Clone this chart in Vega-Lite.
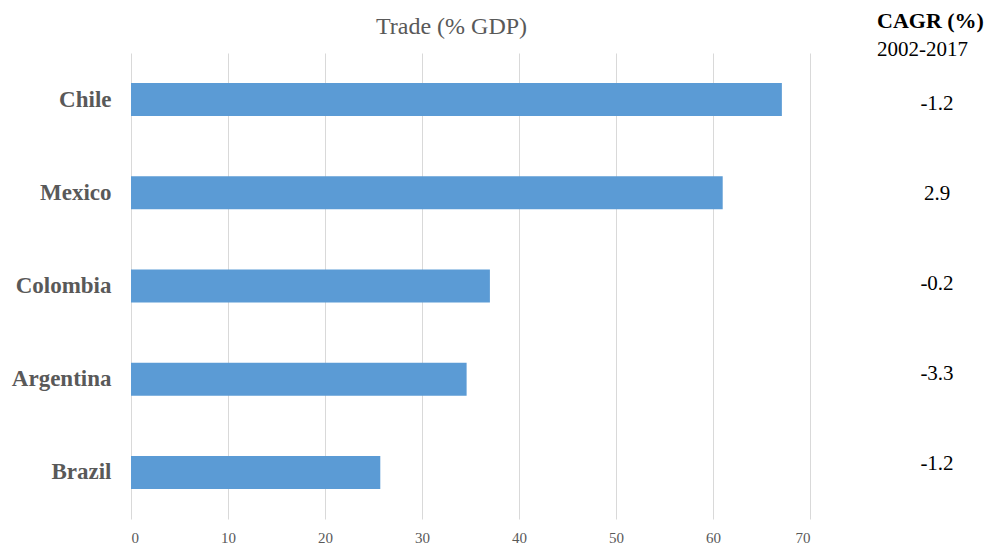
{
  "$schema": "https://vega.github.io/schema/vega-lite/v6.json",
  "background": "white",
  "padding": {"left": 11, "top": 10, "right": 5, "bottom": 5},
  "bounds": "flush",
  "spacing": 67,
  "config": {"view": {"stroke": null}, "font": "Liberation Serif"},
  "data": {"values": [
    {"Country": "Chile", "Trade": 67.1, "CAGR": "-1.2"},
    {"Country": "Mexico", "Trade": 61.0, "CAGR": "2.9"},
    {"Country": "Colombia", "Trade": 37.0, "CAGR": "-0.2"},
    {"Country": "Argentina", "Trade": 34.6, "CAGR": "-3.3"},
    {"Country": "Brazil", "Trade": 25.7, "CAGR": "-1.2"}
  ]},
  "hconcat": [
    {
      "width": 679,
      "height": 466,
      "title": {"text": "Trade (% GDP)", "fontSize": 24, "fontWeight": "normal", "color": "#595959", "font": "Liberation Serif", "anchor": "middle", "offset": 14, "dx": -19},
      "mark": {"type": "bar", "color": "#5B9BD5"},
      "encoding": {
        "y": {"field": "Country", "type": "nominal", "sort": ["Chile", "Mexico", "Colombia", "Argentina", "Brazil"],
          "scale": {"paddingInner": 0.646, "paddingOuter": 0.323},
          "axis": {"title": null, "domain": false, "ticks": false, "labelFont": "Liberation Serif", "labelFontSize": 23, "labelFontWeight": "bold", "labelColor": "#595959", "labelPadding": 20}},
        "x": {"field": "Trade", "type": "quantitative", "scale": {"domain": [0, 70], "nice": false},
          "axis": {"title": null, "values": [0, 10, 20, 30, 40, 50, 60, 70], "grid": true, "gridColor": "#d9d9d9", "domain": false, "ticks": false, "labelFont": "Liberation Serif", "labelFontSize": 15, "labelColor": "#595959", "labelPadding": 11}}
      }
    },
    {
      "width": 120,
      "height": 466,
      "title": {"text": "CAGR (%)", "subtitle": "2002-2017", "anchor": "start", "fontSize": 22, "fontWeight": "bold", "color": "#000000", "font": "Liberation Serif", "subtitleFont": "Liberation Serif", "subtitleFontSize": 21, "subtitleColor": "#000000", "subtitlePadding": 6, "offset": -8},
      "mark": {"type": "text", "fontSize": 21, "color": "#000000", "font": "Liberation Serif"},
      "encoding": {
        "y": {"field": "Country", "type": "nominal", "sort": ["Chile", "Mexico", "Colombia", "Argentina", "Brazil"],
          "scale": {"type": "point", "padding": 0.59, "align": 0.48}, "axis": null},
        "text": {"field": "CAGR", "type": "nominal"}
      }
    }
  ]
}
